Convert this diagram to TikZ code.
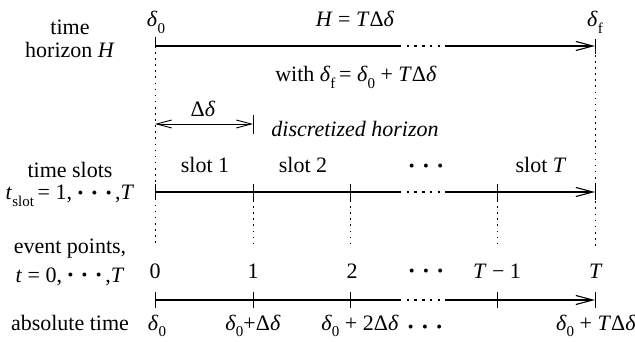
\documentclass[tikz,border=0pt]{standalone}
\usepackage{fontspec}
\setmainfont{Liberation Serif}
\usetikzlibrary{arrows.meta}
\newcommand{\dl}{\textit{δ}}
\newcommand{\Dd}{Δ\textit{δ}}
\newcommand{\sub}[1]{\raisebox{-0.3em}{\fontsize{15}{15}\selectfont #1}}
\newcommand{\bl}{\raisebox{0.09em}{\scalebox{0.75}{•}}}
\newcommand{\bls}{\bl\hspace{0.38em}\bl\hspace{0.38em}\bl}
\begin{document}
\begin{tikzpicture}[x=1pt,y=-1pt, font=\fontsize{22}{26}\selectfont,
  axis/.style={line width=2.6pt},
  gap/.style={line width=2.6pt, dash pattern=on 2.4pt off 5.3pt},
  tick/.style={line width=0.9pt},
  guide/.style={line width=0.9pt, dash pattern=on 1.6pt off 4.5pt},
  tip/.style={-{Straight Barb[length=17pt,width=9pt,line width=1.1pt]}},
  dtip/.style={{Straight Barb[length=15pt,width=8pt,line width=0.9pt]}-{Straight Barb[length=15pt,width=8pt,line width=0.9pt]}},
  lbl/.style={anchor=base, inner sep=0pt}]
\useasboundingbox (0,0) rectangle (635,342);
% coordinates
\foreach \n/\y in {h/46,s/192,e/300}{
  \coordinate (\n0) at (155,\y);
  \coordinate (\n1) at (253,\y);
  \coordinate (\n2) at (350,\y);
  \coordinate (\n g1) at (399,\y);
  \coordinate (\n g2) at (447,\y);
  \coordinate (\n T1) at (497,\y);
  \coordinate (\n f) at (595,\y);
}
% main axes
\foreach \n in {h,s,e}{
  \draw[axis] (\n0) -- (\n g1);
  \draw[gap] (\n g1) -- (\n g2);
  \draw[axis,tip] (\n g2) -- (\n f);
}
% ticks
\draw[tick] ([yshift=9pt]h0) -- ([yshift=-2pt]h0);
\draw[tick] ([yshift=7pt]hf) -- ([yshift=-8pt]hf);
\foreach \p in {s0,s1,s2,sT1,sf,e0,e1,e2,eT1,ef}{
  \draw[tick] ([yshift=8pt]\p) -- ([yshift=-8pt]\p);
}
% guides
\coordinate (g0) at (155,246);
\coordinate (gf) at (595,246);
\draw[guide] (h0) -- (g0);
\draw[guide] ([yshift=-9pt]hf) -- (gf);
\foreach \p in {s1,s2,sT1}{
  \draw[guide] ([yshift=-8pt]\p) -- ([yshift=-54pt]\p);
}
% delta arrow
\coordinate (a0) at (155,124);
\coordinate (a1) at (253,124);
\draw[tick,dtip] (a0) -- (a1);
\draw[tick] ([yshift=9pt]a1) -- ([yshift=-10pt]a1);
% left labels
\node[lbl] (lt1) at (70,35) {time};
\node[lbl] (lt2) at (70,58) {horizon \textit{H}};
\node[lbl] (ls1) at (70,178) {time slots};
\node[lbl] (ls2) at (70,200) {\textit{t}\sub{slot}\,= 1, \bls\,,\textit{T}};
\node[lbl] (le1) at (70,253) {event points,};
\node[lbl] (le2) at (70,282) {\textit{t} = 0, \bls\,,\textit{T}};
\node[lbl] (la) at (70,330) {absolute time};
% top labels
\node[lbl] (d0) at (156,27) {\dl\sub{0}};
\node[lbl] (df) at (595,27) {\dl\sub{f}};
\node[lbl] (Hl) at (355,27) {\textit{H} = \textit{T}\Dd};
\node[lbl] (with) at (356,82) {with \dl\sub{f}\,= \dl\sub{0} + \textit{T}\Dd};
\node[lbl] (Dl) at (203,117) {\Dd};
\node[lbl] (disc) at (355,137) {\textit{discretized horizon}};
% slot labels
\node[lbl] (sl1) at (205,173) {slot 1};
\node[lbl] (sl2) at (303,173) {slot 2};
\node[lbl] (sld) at (426,173) {\bls};
\node[lbl] (slT) at (541,173) {slot \textit{T}};
% event labels
\node[lbl] (ev0) at (155,278) {0};
\node[lbl] (ev1) at (253,278) {1};
\node[lbl] (ev2) at (352,278) {2};
\node[lbl] (evd) at (426,278) {\bls};
\node[lbl] (evT1) at (497,278) {\textit{T} − 1};
\node[lbl] (evT) at (596,278) {\textit{T}};
% absolute labels
\node[lbl] (ab0) at (157,330) {\dl\sub{0}};
\node[lbl] (ab1) at (253,330) {\dl\sub{0}+\Dd};
\node[lbl] (ab2) at (360,330) {\dl\sub{0} + 2\Dd};
\node[lbl] (abd) at (425,334) {\bls};
\node[lbl] (abT) at (596,330) {\dl\sub{0} + \textit{T}\Dd};
\end{tikzpicture}
\end{document}
